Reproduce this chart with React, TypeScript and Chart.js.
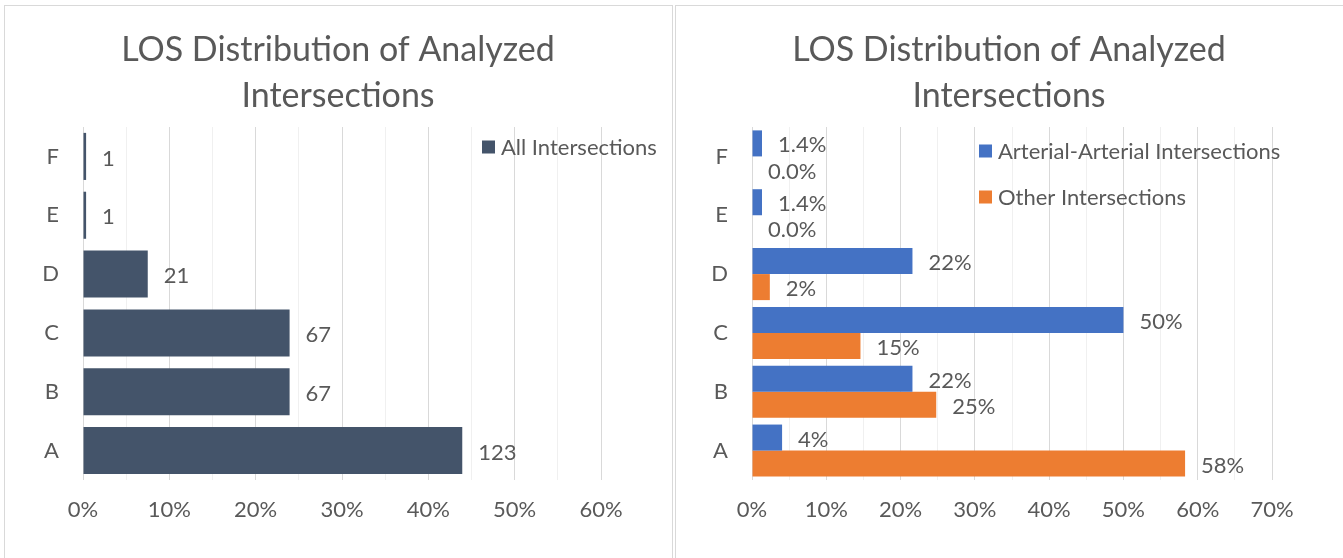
import React, { useEffect, useRef } from 'react';
import { Chart, registerables } from 'chart.js';

Chart.register(...registerables);

// ---- data ----
const categories = ['F', 'E', 'D', 'C', 'B', 'A'];
const allCounts = [1, 1, 21, 67, 67, 123];
const allShare = [0.36, 0.36, 7.5, 23.93, 23.93, 43.93];
const allLabels = ['1', '1', '21', '67', '67', '123'];
const arterialShare = [1.35, 1.35, 21.6, 50.0, 21.6, 4.05];
const otherShare = [0.0, 0.0, 2.4, 14.6, 24.8, 58.3];
const arterialLabels = ['1.4%', '1.4%', '22%', '50%', '22%', '4%'];
const otherLabels = ['0.0%', '0.0%', '2%', '15%', '25%', '58%'];
const titleLines = ['LOS Distribution of Analyzed', 'Intersections'];
const leftSeriesName = 'All Intersections';
const rightSeriesNames = ['Arterial-Arterial Intersections', 'Other Intersections'];
const leftAxisMax = 60;
const rightAxisMax = 70;

// ---- styles ----
const FONT = 'Lato, "Open Sans", sans-serif';
const TEXT = '#595959';
const GRID_MAJOR = '#D9D9D9';
const GRID_MINOR = '#F0F0F0';
const COL_ALL = '#44546A';
const COL_ART = '#4472C4';
const COL_OTH = '#ED7D31';
const TICK_SIZE = 22;
const TITLE_SIZE = 34;

const CW = 668;
const CH = 553;

function makePlugins(labels: string[][], legend: { text: string; color: string; x: number; y: number }[]) {
  return [
    {
      id: 'valueLabels',
      afterDatasetsDraw(chart: any) {
        const ctx = chart.ctx;
        ctx.save();
        ctx.font = `${TICK_SIZE}px ${FONT}`;
        ctx.fillStyle = TEXT;
        ctx.textAlign = 'left';
        ctx.textBaseline = 'middle';
        chart.data.datasets.forEach((_ds: any, di: number) => {
          const meta = chart.getDatasetMeta(di);
          meta.data.forEach((el: any, i: number) => {
            ctx.fillText(labels[di][i], el.x + 16, el.y + 2);
          });
        });
        ctx.restore();
      },
    },
    {
      id: 'titleLegend',
      afterDraw(chart: any) {
        const ctx = chart.ctx;
        ctx.save();
        ctx.fillStyle = TEXT;
        ctx.font = `${TITLE_SIZE}px ${FONT}`;
        ctx.textAlign = 'center';
        ctx.textBaseline = 'alphabetic';
        ctx.fillText(titleLines[0], CW / 2, 56);
        ctx.fillText(titleLines[1], CW / 2, 102);
        ctx.font = `${TICK_SIZE}px ${FONT}`;
        ctx.textAlign = 'left';
        ctx.textBaseline = 'middle';
        legend.forEach((it) => {
          ctx.fillStyle = it.color;
          ctx.fillRect(it.x, it.y - 6.5, 13, 13);
          ctx.fillStyle = TEXT;
          ctx.fillText(it.text, it.x + 19, it.y + 1);
        });
        ctx.restore();
      },
    },
  ];
}

function axisOptions(max: number, plotLeft: number) {
  return {
    x: {
      min: 0,
      max,
      ticks: {
        stepSize: 5,
        autoSkip: false,
        maxRotation: 0,
        padding: 17,
        color: TEXT,
        font: { family: FONT, size: TICK_SIZE },
        callback: (v: any) => (Number(v) % 10 === 0 ? `${v}%` : ''),
      },
      grid: {
        color: (c: any) => (c.tick && c.tick.value % 10 === 0 ? GRID_MAJOR : GRID_MINOR),
        drawTicks: false,
        lineWidth: 1,
      },
      border: { display: false },
      afterFit: (s: any) => {
        s.height = 78;
      },
    },
    y: {
      ticks: { color: TEXT, font: { family: FONT, size: TICK_SIZE }, padding: 24 },
      grid: { display: false, drawTicks: false },
      border: { display: false },
      afterFit: (s: any) => {
        s.width = plotLeft;
      },
    },
  };
}

function leftConfig(): any {
  return {
    type: 'bar',
    data: {
      labels: categories,
      datasets: [
        {
          label: leftSeriesName,
          data: allShare,
          backgroundColor: COL_ALL,
          categoryPercentage: 0.8,
          barPercentage: 1.0,
        },
      ],
    },
    options: {
      animation: false,
      responsive: false,
      indexAxis: 'y',
      layout: { padding: { top: 122, right: 71, bottom: 0, left: 0 } },
      plugins: { legend: { display: false }, title: { display: false }, tooltip: { enabled: false } },
      scales: axisOptions(leftAxisMax, 79),
    },
    plugins: makePlugins([allLabels], [{ text: leftSeriesName, color: COL_ALL, x: 478, y: 142 }]),
  };
}

function rightConfig(): any {
  return {
    type: 'bar',
    data: {
      labels: categories,
      datasets: [
        {
          label: rightSeriesNames[0],
          data: arterialShare,
          backgroundColor: COL_ART,
          categoryPercentage: 0.885,
          barPercentage: 1.0,
        },
        {
          label: rightSeriesNames[1],
          data: otherShare,
          backgroundColor: COL_OTH,
          categoryPercentage: 0.885,
          barPercentage: 1.0,
        },
      ],
    },
    options: {
      animation: false,
      responsive: false,
      indexAxis: 'y',
      layout: { padding: { top: 122, right: 71, bottom: 0, left: 0 } },
      plugins: { legend: { display: false }, title: { display: false }, tooltip: { enabled: false } },
      scales: axisOptions(rightAxisMax, 77),
    },
    plugins: makePlugins(
      [arterialLabels, otherLabels],
      [
        { text: rightSeriesNames[0], color: COL_ART, x: 304, y: 146 },
        { text: rightSeriesNames[1], color: COL_OTH, x: 304, y: 192 },
      ]
    ),
  };
}

function ChartCanvas({ make, left }: { make: () => any; left: number }) {
  const ref = useRef<HTMLCanvasElement>(null);
  useEffect(() => {
    const chart = new Chart(ref.current as HTMLCanvasElement, make());
    return () => chart.destroy();
  }, []);
  return (
    <canvas
      ref={ref}
      width={CW}
      height={CH}
      style={{ position: 'absolute', left, top: 5, width: CW, height: CH }}
    />
  );
}

export default function App() {
  void allCounts;
  return (
    <div
      style={{
        position: 'absolute',
        left: 0,
        top: 0,
        width: 1343,
        height: 558,
        overflow: 'hidden',
        background: '#fff',
      }}
    >
      <div
        style={{
          position: 'absolute',
          left: 4,
          top: 5,
          width: 669,
          height: 600,
          boxSizing: 'border-box',
          border: '1px solid #D9D9D9',
        }}
      />
      <div
        style={{
          position: 'absolute',
          left: 675,
          top: 5,
          width: 700,
          height: 600,
          boxSizing: 'border-box',
          border: '1px solid #D9D9D9',
        }}
      />
      <ChartCanvas make={leftConfig} left={4} />
      <ChartCanvas make={rightConfig} left={675} />
    </div>
  );
}
